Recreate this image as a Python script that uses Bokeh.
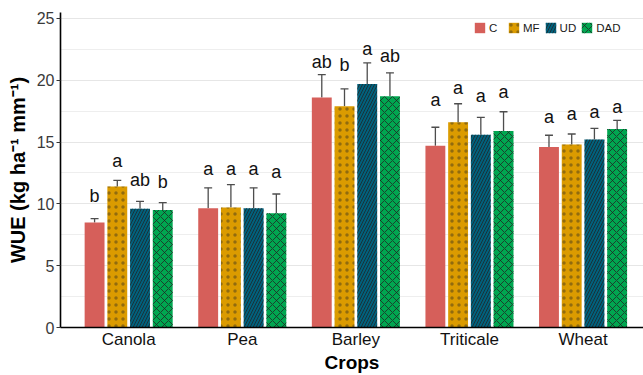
from bokeh.plotting import figure
from bokeh.models import Range1d, FixedTicker, Legend, LegendItem, ColumnDataSource
from bokeh.embed import file_html
from bokeh.resources import INLINE
from bokeh.core.properties import value

# ---- data ----
crops = ["Canola", "Pea", "Barley", "Triticale", "Wheat"]
treatments = ["C", "MF", "UD", "DAD"]

wue_C = [8.5, 9.65, 18.6, 14.7, 14.6]
wue_MF = [11.4, 9.7, 17.9, 16.6, 14.8]
wue_UD = [9.6, 9.65, 19.7, 15.6, 15.2]
wue_DAD = [9.5, 9.25, 18.7, 15.9, 16.05]

se_C = [0.3, 1.65, 1.85, 1.5, 0.95]
se_MF = [0.5, 1.85, 1.4, 1.5, 0.85]
se_UD = [0.6, 1.65, 1.7, 1.4, 0.9]
se_DAD = [0.6, 1.55, 1.9, 1.55, 0.7]

letters_C = ["b", "a", "ab", "a", "a"]
letters_MF = ["a", "a", "b", "a", "a"]
letters_UD = ["ab", "a", "a", "a", "a"]
letters_DAD = ["b", "a", "ab", "a", "a"]

# heights (data units) at which the letters sit
letter_y_C = [10.6, 12.8, 21.5, 18.4, 17.05]
letter_y_MF = [13.45, 12.8, 21.2, 19.35, 17.25]
letter_y_UD = [11.9, 12.8, 22.55, 18.75, 17.4]
letter_y_DAD = [11.75, 12.55, 21.95, 19.05, 17.8]

y_ticks = [0, 5, 10, 15, 20, 25]
x_title = "Crops"
y_title = "WUE (kg ha\u207b\u00b9 mm\u207b\u00b9)"

means = [wue_C, wue_MF, wue_UD, wue_DAD]
ses = [se_C, se_MF, se_UD, se_DAD]
letters = [letters_C, letters_MF, letters_UD, letters_DAD]
letter_ys = [letter_y_C, letter_y_MF, letter_y_UD, letter_y_DAD]

colors = ["#D65F5A", "#DB9B00", "#00617D", "#00A650"]
hatches = [" ", "dot", "right_diagonal_line", "diagonal_cross"]
hatch_scales = [12, 7, 6, 8]
hatch_weights = [1, 0.5, 1, 1]
hatch_alphas = [0, 0.4, 0.75, 0.75]
offsets = [-0.3, -0.1, 0.1, 0.3]
bar_w = 0.175

X0, X1, Y0, Y1 = 0.4, 5.532, 0, 25.48
p = figure(width=643, height=375, output_backend="svg", toolbar_location=None,
           x_range=Range1d(X0, X1), y_range=Range1d(Y0, Y1),
           min_border_left=60, min_border_right=0, min_border_top=12,
           min_border_bottom=46, background_fill_color="white",
           border_fill_color="white")
p.outline_line_color = None

FONT = "Liberation Sans"
x_pos = list(range(1, len(crops) + 1))

items = []
for i, t in enumerate(treatments):
    xs = [x + offsets[i] for x in x_pos]
    tops = [m + s for m, s in zip(means[i], ses[i])]
    src = ColumnDataSource(dict(x=xs, top=means[i], etop=tops,
                                xl=[x - 0.035 for x in xs], xr=[x + 0.035 for x in xs],
                                lab=letters[i], ly=letter_ys[i]))
    p.segment(x0="x", y0="top", x1="x", y1="etop", source=src,
              line_color="#4D4D4D", line_width=1.3)
    p.segment(x0="xl", y0="etop", x1="xr", y1="etop", source=src,
              line_color="#4D4D4D", line_width=1.3)
    kw = {}
    if hatches[i].strip():
        kw = dict(hatch_pattern=hatches[i], hatch_color="#222222",
                  hatch_alpha=hatch_alphas[i], hatch_scale=hatch_scales[i],
                  hatch_weight=hatch_weights[i])
    r = p.vbar(x="x", top="top", width=bar_w, bottom=0, source=src,
               fill_color=colors[i], line_color=None, **kw)
    items.append(LegendItem(label=t, renderers=[r]))
    p.text(x="x", y="ly", text="lab", source=src, text_align="center",
           text_baseline="alphabetic", text_font=value(FONT),
           text_font_size="18px", text_color="#111111")

legend = Legend(items=items, orientation="horizontal", location=(413, 293),
                glyph_width=13, glyph_height=13, label_standoff=3, spacing=4,
                padding=0, margin=0, border_line_color=None,
                background_fill_alpha=0.0, label_text_font=FONT,
                label_text_font_size="11.5px", label_text_color="#1A1A1A",
                label_height=13, label_width=14, label_text_baseline="middle")
p.add_layout(legend, "center")

# grids
p.xgrid.grid_line_color = None
p.ygrid.ticker = FixedTicker(ticks=y_ticks, minor_ticks=[2.5, 7.5, 12.5, 17.5, 22.5])
p.ygrid.grid_line_color = "#E6E6E6"
p.ygrid.grid_line_width = 1
p.ygrid.minor_grid_line_color = "#EEEEEE"
p.ygrid.minor_grid_line_width = 1

# y axis
p.yaxis.ticker = FixedTicker(ticks=y_ticks)
p.yaxis.axis_line_color = "black"
p.yaxis.axis_line_width = 1.6
p.yaxis.major_tick_out = 4
p.yaxis.major_tick_in = 0
p.yaxis.major_tick_line_color = "#333333"
p.yaxis.minor_tick_line_color = None
p.yaxis.major_label_text_font = FONT
p.yaxis.major_label_text_font_size = "16px"
p.yaxis.major_label_text_color = "#3A3A3A"
p.yaxis.major_label_standoff = 2
p.yaxis.axis_label = y_title
p.yaxis.axis_label_text_font = FONT
p.yaxis.axis_label_text_font_style = "bold"
p.yaxis.axis_label_text_font_size = "20px"
p.yaxis.axis_label_text_color = "black"
p.yaxis.axis_label_standoff = 5

# x axis
p.xaxis.ticker = FixedTicker(ticks=x_pos)
p.xaxis.major_label_overrides = {x: c for x, c in zip(x_pos, crops)}
p.xaxis.axis_line_color = "black"
p.xaxis.axis_line_width = 1.6
p.xaxis.major_tick_line_color = None
p.xaxis.minor_tick_line_color = None
p.xaxis.major_tick_out = 0
p.xaxis.major_tick_in = 0
p.xaxis.major_label_text_font = FONT
p.xaxis.major_label_text_font_size = "17px"
p.xaxis.major_label_text_color = "#111111"
p.xaxis.major_label_standoff = 2
p.xaxis.axis_label = x_title
p.xaxis.axis_label_text_font = FONT
p.xaxis.axis_label_text_font_style = "bold"
p.xaxis.axis_label_text_font_size = "19px"
p.xaxis.axis_label_text_color = "black"
p.xaxis.axis_label_standoff = 0

open("out.html", "w").write(file_html(p, INLINE))
